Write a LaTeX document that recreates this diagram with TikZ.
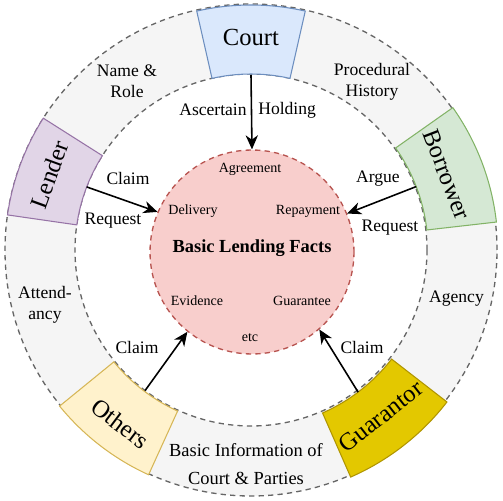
\documentclass[tikz,border=0pt]{standalone}
\usepackage{fontspec}
\setmainfont{Liberation Serif}
\usetikzlibrary{arrows.meta}

\definecolor{ringfill}{HTML}{F5F5F5}
\definecolor{ringdraw}{HTML}{666666}
\definecolor{courtfill}{HTML}{DAE8FC}
\definecolor{courtdraw}{HTML}{6C8EBF}
\definecolor{lenderfill}{HTML}{E1D5E7}
\definecolor{lenderdraw}{HTML}{9673A6}
\definecolor{borrowerfill}{HTML}{D5E8D4}
\definecolor{borrowerdraw}{HTML}{82B366}
\definecolor{othersfill}{HTML}{FFF2CC}
\definecolor{othersdraw}{HTML}{D6B656}
\definecolor{guarfill}{HTML}{E3C800}
\definecolor{guardraw}{HTML}{B09500}
\definecolor{factsfill}{HTML}{F8CECC}
\definecolor{factsdraw}{HTML}{B85450}

\begin{document}
\begin{tikzpicture}[x=0.02cm,y=0.02cm,
  ringline/.style={draw=ringdraw,line width=0.75pt,dash pattern=on 3pt off 2.4pt},
  sector/.style={line width=0.6pt},
  boxtext/.style={font=\fontsize{14}{17}\selectfont,inner sep=0pt},
  ringtext/.style={font=\fontsize{10}{12}\selectfont,align=center,inner sep=0pt},
  armtext/.style={font=\fontsize{10}{12}\selectfont,inner sep=0pt},
  smalltext/.style={font=\fontsize{8}{10}\selectfont,inner sep=0pt},
  arr/.style={line width=0.9pt,-{Stealth[length=8pt,width=7pt,inset=2.5pt]}}]
\useasboundingbox (-251,-250) rectangle (252,250);

\fill[ringfill,even odd rule] (0,0) circle[radius=246] (0,0) circle[radius=176];
\draw[ringline] (0,0) circle[radius=246];
\draw[ringline] (0,0) circle[radius=176];

\draw[sector,fill=courtfill,draw=courtdraw] (77.2:176) arc[start angle=77.2,end angle=102.8,radius=176]
  -- (102.8:245) arc[start angle=102.8,end angle=77.2,radius=245] -- cycle;
\draw[sector,fill=lenderfill,draw=lenderdraw] (147.6:176) arc[start angle=147.6,end angle=171.8,radius=176]
  -- (171.8:246) arc[start angle=171.8,end angle=147.6,radius=246] -- cycle;
\draw[sector,fill=borrowerfill,draw=borrowerdraw] (6.5:177) arc[start angle=6.5,end angle=35.2,radius=177]
  -- (35.2:247) arc[start angle=35.2,end angle=6.5,radius=247] -- cycle;
\draw[sector,fill=othersfill,draw=othersdraw] (219.2:177) arc[start angle=219.2,end angle=245.5,radius=177]
  -- (245.5:247) arc[start angle=245.5,end angle=219.2,radius=247] -- cycle;
\draw[sector,fill=guarfill,draw=guardraw] (293.7:178) arc[start angle=293.7,end angle=322.2,radius=178]
  -- (322.2:248) arc[start angle=322.2,end angle=293.7,radius=248] -- cycle;

\node[boxtext] (court) at (90:213) {Court};
\node[boxtext,rotate=70] (lender) at (159.5:215) {Lender};
\node[boxtext,rotate=-69] (borrower) at (21:210) {Borrower};
\node[boxtext,rotate=-37] (others) at (233:217) {Others};
\node[boxtext,rotate=38] (guarantor) at (308:211) {Guarantor};

\node[ringtext] (namerole) at (-124,168.5) {Name \&\\Role};
\node[ringtext] (history) at (121,168) {Procedural\\History};
\node[ringtext] (attend) at (-206,-55) {Attend-\\ancy};
\node[ringtext] (agency) at (205.5,-49) {Agency};
\node[ringtext,font=\fontsize{10.5}{16}\selectfont] (basicinfo) at (-5,-214) {Basic Information of\\Court \& Parties};

\node[circle,fill=factsfill,draw=factsdraw,line width=0.75pt,dash pattern=on 3pt off 2.4pt,
  minimum size=4.08cm,inner sep=0pt] (facts) at (1,-2) {};
\node[font=\fontsize{10.5}{12}\selectfont\bfseries,inner sep=0pt] (lending) at (1,2) {Basic Lending Facts};
\node[smalltext] (agreement) at (-1,81) {Agreement};
\node[smalltext] (delivery) at (-58,39) {Delivery};
\node[smalltext] (repayment) at (57,39) {Repayment};
\node[smalltext] (evidence) at (-54,-51) {Evidence};
\node[smalltext] (guarantee) at (51,-51) {Guarantee};
\node[smalltext] (etc) at (-1,-88) {etc};

\coordinate (court-in) at (90:175);
\coordinate (lender-in) at (159:176);
\coordinate (borrower-in) at (21:177);
\coordinate (others-in) at (233:176);
\coordinate (guarantor-in) at (307:178);

\draw[arr] (court-in) -- (facts.90);
\draw[arr] (lender-in) -- (facts.157);
\draw[arr] (borrower-in) -- (facts.22);
\draw[arr] (others-in) -- (facts.231);
\draw[arr] (guarantor-in) -- (facts.311);

\node[armtext,anchor=east] (ascertain) at (-4,140) {Ascertain};
\node[armtext,anchor=west] (holding) at (7,140) {Holding};
\node[armtext] (lclaim) at (-123,72) {Claim};
\node[armtext] (lrequest) at (-138,29) {Request};
\node[armtext] (argue) at (127,71) {Argue};
\node[armtext] (brequest) at (139,22) {Request};
\node[armtext] (oclaim) at (-114,-97) {Claim};
\node[armtext] (gclaim) at (111,-97) {Claim};
\end{tikzpicture}
\end{document}
